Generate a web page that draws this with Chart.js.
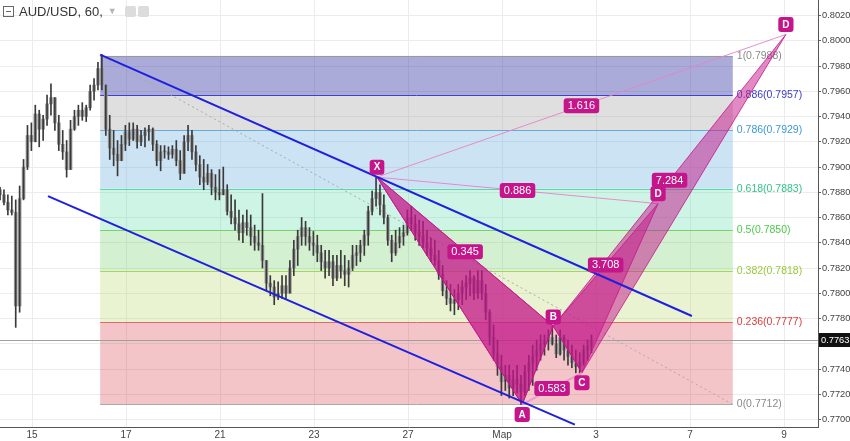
<!DOCTYPE html>
<html>
<head>
<meta charset="utf-8">
<script src="https://cdn.jsdelivr.net/npm/chart.js@4.4.1/dist/chart.umd.min.js"></script>
<style>
  html, body { margin: 0; padding: 0; background: #fff; }
  #wrap { position: relative; width: 850px; height: 441px; }
  #hdr { position: absolute; left: 3px; top: 3px; height: 16px; display: flex; align-items: center;
         font: 13px "Liberation Sans", Arial, sans-serif; color: #333; }
  #hdr .fold { width: 9px; height: 9px; border: 1px solid #666; position: relative; margin-right: 5px; }
  #hdr .fold::after { content: ""; position: absolute; left: 2px; right: 2px; top: 4px; height: 1px; background: #666; }
  #hdr .caret { color: #b5b5b5; font-size: 9px; margin: 0 8px 0 5px; }
  #hdr .ico { width: 11px; height: 11px; background: #dcdcdc; border-radius: 2px; margin-right: 2px; }
</style>
</head>
<body>
<div id="wrap">
  <canvas id="c" width="850" height="441"></canvas>
  <div id="hdr"><span class="fold"></span><span>AUD/USD, 60,</span><span class="caret">▼</span><span class="ico"></span><span class="ico"></span></div>
</div>
<script>
// 2-hour bars, time measured in trading days from the "15" label
const tStart = -0.68;
const barStep = 1 / 12;
const firstOpen = 0.7882;
const hi = [
  .7884,.7882,.7878,.7877,.7874,.7885,.7906,.7933,.7935,.7949,
  .7945,.7941,.7957,.7966,.7953,.7941,.7929,.7921,.7937,.7945,
  .7949,.7951,.7949,.7965,.7970,.7983,.7989,.7965,.7941,.7929,
  .7921,.7925,.7933,.7935,.7935,.7933,.7929,.7931,.7933,.7931,
  .7921,.7917,.7917,.7916,.7917,.7921,.7913,.7925,.7933,.7929,
  .7917,.7909,.7906,.7902,.7898,.7894,.7898,.7900,.7886,.7878,
  .7874,.7866,.7862,.7866,.7862,.7854,.7850,.7879,.7826,.7814,
  .7810,.7809,.7814,.7814,.7826,.7842,.7850,.7860,.7857,.7852,
  .7849,.7846,.7838,.7834,.7834,.7830,.7830,.7834,.7830,.7826,
  .7838,.7838,.7842,.7850,.7869,.7881,.7892,.7886,.7878,.7862,
  .7846,.7850,.7852,.7854,.7866,.7869,.7862,.7858,.7857,.7850,
  .7844,.7842,.7834,.7822,.7810,.7807,.7803,.7807,.7810,.7814,
  .7818,.7814,.7818,.7818,.7807,.7787,.7775,.7763,.7751,.7743,
  .7743,.7739,.7743,.7735,.7743,.7751,.7759,.7763,.7767,.7767,
  .7771,.7774,.7767,.7771,.7767,.7763,.7759,.7755,.7753,.7759,
  .7763,.7767
];
const lo = [
  .7874,.7870,.7862,.7862,.7773,.7785,.7874,.7898,.7913,.7921,
  .7916,.7921,.7933,.7941,.7929,.7913,.7906,.7892,.7898,.7929,
  .7933,.7937,.7936,.7945,.7953,.7961,.7961,.7925,.7906,.7901,
  .7893,.7906,.7913,.7917,.7921,.7915,.7917,.7916,.7921,.7913,
  .7901,.7897,.7907,.7906,.7907,.7901,.7890,.7901,.7913,.7906,
  .7897,.7886,.7882,.7886,.7878,.7874,.7874,.7878,.7862,.7855,
  .7850,.7842,.7840,.7846,.7838,.7834,.7834,.7820,.7802,.7798,
  .7791,.7795,.7796,.7796,.7802,.7814,.7822,.7838,.7838,.7834,
  .7830,.7825,.7818,.7812,.7814,.7806,.7810,.7812,.7806,.7805,
  .7818,.7822,.7825,.7830,.7838,.7862,.7869,.7862,.7855,.7838,
  .7825,.7830,.7836,.7838,.7846,.7850,.7842,.7838,.7836,.7830,
  .7825,.7822,.7811,.7798,.7791,.7786,.7783,.7787,.7791,.7795,
  .7798,.7795,.7796,.7795,.7779,.7759,.7747,.7735,.7719,.7723,
  .7717,.7719,.7721,.7712,.7719,.7723,.7727,.7739,.7747,.7751,
  .7755,.7759,.7749,.7751,.7747,.7743,.7741,.7737,.7736,.7743,
  .7747,.7753
];
const cl = [
  .7878,.7872,.7866,.7864,.7790,.7875,.7900,.7925,.7920,.7942,
  .7930,.7938,.7950,.7955,.7935,.7918,.7912,.7898,.7930,.7940,
  .7945,.7940,.7947,.7960,.7965,.7978,.7965,.7930,.7915,.7910,
  .7905,.7918,.7928,.7922,.7930,.7920,.7925,.7928,.7930,.7918,
  .7905,.7912,.7912,.7910,.7914,.7905,.7895,.7920,.7925,.7912,
  .7902,.7892,.7888,.7895,.7884,.7880,.7878,.7882,.7865,.7860,
  .7855,.7848,.7856,.7852,.7845,.7840,.7838,.7826,.7808,.7805,
  .7797,.7800,.7806,.7800,.7820,.7835,.7845,.7852,.7845,.7840,
  .7838,.7832,.7825,.7820,.7825,.7812,.7822,.7818,.7815,.7820,
  .7830,.7832,.7838,.7846,.7865,.7875,.7880,.7870,.7860,.7842,
  .7832,.7840,.7845,.7848,.7860,.7855,.7848,.7845,.7840,.7836,
  .7830,.7826,.7815,.7802,.7796,.7792,.7795,.7800,.7805,.7808,
  .7812,.7800,.7810,.7800,.7785,.7765,.7752,.7742,.7730,.7735,
  .7725,.7732,.7728,.7722,.7738,.7745,.7750,.7755,.7760,.7762,
  .7765,.7760,.7752,.7765,.7755,.7750,.7745,.7742,.7745,.7755,
  .7758,.7763
];
const lastPrice = 0.7763;

const dayTicks = [0, 2, 4, 6, 8, 10, 12, 14, 16];
const dayLabels = ['15', '17', '21', '23', '27', 'Мар', '3', '7', '9'];
const priceTicks = [0.7700, 0.7720, 0.7740, 0.7760, 0.7780, 0.7800, 0.7820, 0.7840, 0.7860,
                    0.7880, 0.7900, 0.7920, 0.7940, 0.7960, 0.7980, 0.8000, 0.8020];

// fib retracement
const fibLevels = [1, 0.886, 0.786, 0.618, 0.5, 0.382, 0.236, 0];
const fibPrices = [0.7988, 0.7957, 0.7929, 0.7883, 0.7850, 0.7818, 0.7777, 0.7712];
const fibTimes = [1.45, 14.91];

// channel
const channelTopTimes = [1.45, 14.04];
const channelTopPrices = [0.7989, 0.7782];
const channelBotTimes = [0.34, 11.55];
const channelBotPrices = [0.7877, 0.7696];

// XABCD, two D targets sharing X A B C
const patNames = ['X', 'A', 'B', 'C'];
const patTimes = [7.34, 10.43, 11.09, 11.70];
const patPrices = [0.7892, 0.7712, 0.7774, 0.7737];
const dTimes = [13.32, 16.04];
const dPrices = [0.7871, 0.8005];
const ratioXB = '0.345';
const ratioAC = '0.583';
const ratioBD = ['3.708', '7.284'];
const ratioXD = ['0.886', '1.616'];

const fibFills = ['rgba(60,60,170,0.43)', 'rgba(150,150,150,0.3)', 'rgba(100,170,220,0.33)',
                  'rgba(60,210,150,0.25)', 'rgba(80,200,70,0.25)', 'rgba(170,210,80,0.26)',
                  'rgba(210,40,50,0.27)'];
const fibLineColors = ['#9a9a9a', '#4040d0', '#6aa9d8', '#5ed6ad', '#6fd66a', '#a5d65a', '#e06a6a', '#aaaaaa'];
const fibTextColors = ['#8a8a8a', '#3b3bc9', '#3c9ad4', '#33c48a', '#4cc94c', '#98c93a', '#e03a3a', '#8a8a8a'];
const PAT = '196,22,138';
const FONT = '"Liberation Sans", Arial, sans-serif';

const opens = cl.map((c, i) => i === 0 ? firstOpen : cl[i - 1]);
const times = cl.map((c, i) => tStart + i * barStep);

function tag(ctx, text, cx, cy, font) {
  ctx.font = font;
  const w = ctx.measureText(text).width + 8;
  ctx.fillStyle = `rgb(${PAT})`;
  ctx.beginPath();
  ctx.roundRect(cx - w / 2, cy - 7.5, w, 15, 3);
  ctx.fill();
  ctx.fillStyle = '#fff';
  ctx.textAlign = 'center';
  ctx.textBaseline = 'middle';
  ctx.fillText(text, cx, cy + 0.5);
}

const overlays = {
  id: 'overlays',
  beforeDatasetsDraw(chart) {
    const { ctx, chartArea: a, scales: { x, y } } = chart;
    ctx.save();
    ctx.beginPath();
    ctx.rect(a.left, a.top, a.right - a.left, a.bottom - a.top);
    ctx.clip();
    const x0 = x.getPixelForValue(fibTimes[0]), x1 = x.getPixelForValue(fibTimes[1]);
    for (let i = 0; i < fibPrices.length - 1; i++) {
      const y0 = y.getPixelForValue(fibPrices[i]), y1 = y.getPixelForValue(fibPrices[i + 1]);
      ctx.fillStyle = fibFills[i];
      ctx.fillRect(x0, y0, x1 - x0, y1 - y0);
    }
    ctx.lineWidth = 1;
    ctx.font = '10.5px ' + FONT;
    ctx.textAlign = 'left';
    ctx.textBaseline = 'middle';
    fibPrices.forEach((p, i) => {
      const yy = Math.round(y.getPixelForValue(p)) + 0.5;
      ctx.strokeStyle = fibLineColors[i];
      ctx.beginPath(); ctx.moveTo(x0, yy); ctx.lineTo(x1, yy); ctx.stroke();
      ctx.fillStyle = fibTextColors[i];
      ctx.fillText(`${fibLevels[i]}(${p.toFixed(4)})`, x1 + 4, yy);
    });
    // dotted trend of the retracement
    ctx.strokeStyle = '#a8a8a8';
    ctx.setLineDash([2, 3]);
    ctx.beginPath();
    ctx.moveTo(x0, y.getPixelForValue(fibPrices[0]));
    ctx.lineTo(x1, y.getPixelForValue(fibPrices[fibPrices.length - 1]));
    ctx.stroke();
    ctx.setLineDash([]);
    // last price line
    const yp = Math.round(y.getPixelForValue(lastPrice)) + 0.5;
    ctx.strokeStyle = '#a0a0a0';
    ctx.beginPath(); ctx.moveTo(a.left, yp); ctx.lineTo(a.right, yp); ctx.stroke();
    ctx.restore();
  },
  afterDatasetsDraw(chart) {
    const { ctx, chartArea: a, scales: { x, y } } = chart;
    const P = (t, p) => [x.getPixelForValue(t), y.getPixelForValue(p)];
    const [X, A, B, C] = patTimes.map((t, i) => P(t, patPrices[i]));
    const Ds = dTimes.map((t, i) => P(t, dPrices[i]));
    ctx.save();
    ctx.beginPath();
    ctx.rect(a.left, a.top, a.right - a.left, a.bottom - a.top);
    ctx.clip();
    const tri = (p, q, r) => {
      ctx.beginPath(); ctx.moveTo(...p); ctx.lineTo(...q); ctx.lineTo(...r); ctx.closePath();
      ctx.fill(); ctx.stroke();
    };
    ctx.lineWidth = 1;
    Ds.forEach(D => {
      ctx.fillStyle = `rgba(${PAT},0.5)`;
      ctx.strokeStyle = `rgba(${PAT},0.8)`;
      tri(X, A, B);
      tri(B, C, D);
      ctx.strokeStyle = 'rgba(230,130,200,0.9)';
      ctx.beginPath(); ctx.moveTo(...X); ctx.lineTo(...D); ctx.stroke();
    });
    ctx.strokeStyle = 'rgba(235,150,205,0.95)';
    ctx.lineWidth = 2;
    ctx.beginPath(); ctx.moveTo(...A); ctx.lineTo(...C); ctx.stroke();

    // channel
    ctx.strokeStyle = '#1f1fe0';
    ctx.lineWidth = 2;
    [[channelTopTimes, channelTopPrices], [channelBotTimes, channelBotPrices]].forEach(([ts, ps]) => {
      ctx.beginPath();
      ctx.moveTo(...P(ts[0], ps[0]));
      ctx.lineTo(...P(ts[1], ps[1]));
      ctx.stroke();
    });

    // ratio tags
    const mid = (p, q) => [(p[0] + q[0]) / 2, (p[1] + q[1]) / 2];
    const rf = '11px ' + FONT;
    tag(ctx, ratioXB, ...mid(X, B), rf);
    tag(ctx, ratioAC, ...mid(A, C), rf);
    Ds.forEach((D, i) => {
      tag(ctx, ratioBD[i], ...mid(B, D), rf);
      tag(ctx, ratioXD[i], ...mid(X, D), rf);
    });
    // point tags
    const pf = 'bold 10px ' + FONT;
    tag(ctx, 'X', X[0], X[1] - 10, pf);
    tag(ctx, 'A', A[0], A[1] + 10, pf);
    tag(ctx, 'B', B[0], B[1] - 9, pf);
    tag(ctx, 'C', C[0], C[1] + 10, pf);
    Ds.forEach(D => tag(ctx, 'D', D[0], D[1] - 10, pf));
    ctx.restore();
  },
  afterDraw(chart) {
    const { ctx, chartArea: a, scales: { y } } = chart;
    const yp = y.getPixelForValue(lastPrice);
    ctx.save();
    ctx.fillStyle = '#111';
    ctx.fillRect(a.right + 1, yp - 7, chart.width - a.right - 1, 14);
    ctx.fillStyle = '#fff';
    ctx.font = '9.3px ' + FONT;
    ctx.textAlign = 'left';
    ctx.textBaseline = 'middle';
    ctx.fillText(lastPrice.toFixed(4), a.right + 3, yp + 0.5);
    ctx.restore();
  }
};

new Chart(document.getElementById('c'), {
  type: 'bar',
  data: {
    datasets: [
      {
        label: 'range',
        data: times.map((t, i) => ({ x: t, y: [Math.min(lo[i], opens[i]), Math.max(hi[i], opens[i])] })),
        backgroundColor: '#3a3a3a',
        barThickness: 1,
        grouped: false,
        order: 0
      },
      {
        label: 'body',
        data: times.map((t, i) => ({ x: t, y: [opens[i], cl[i]] })),
        backgroundColor: '#9c9c9c',
        barThickness: 3,
        minBarLength: 1,
        grouped: false,
        order: 1
      }
    ]
  },
  options: {
    responsive: false,
    animation: false,
    layout: { padding: 0 },
    plugins: { legend: { display: false }, tooltip: { enabled: false } },
    scales: {
      x: {
        type: 'linear',
        min: -0.681,
        max: 16.723,
        offset: false,
        afterBuildTicks: s => { s.ticks = dayTicks.map(v => ({ value: v })); },
        afterFit: s => { s.height = 14; s.paddingLeft = 0; s.paddingRight = 0; },
        ticks: {
          callback: v => dayLabels[dayTicks.indexOf(v)],
          autoSkip: false, maxRotation: 0, padding: 2,
          color: '#444', font: { size: 10, family: FONT }
        },
        grid: { color: '#ececec', offset: false, drawTicks: false },
        border: { color: '#555' }
      },
      y: {
        position: 'right',
        min: 0.76941,
        max: 0.80323,
        beginAtZero: false,
        afterBuildTicks: s => { s.ticks = priceTicks.map(v => ({ value: v })); },
        afterFit: s => { s.width = 32; s.paddingTop = 0; s.paddingBottom = 0; },
        ticks: {
          callback: v => v.toFixed(4),
          padding: 1,
          color: '#444', font: { size: 9.3, family: FONT }
        },
        grid: { color: '#ececec', tickColor: '#666', tickLength: 3 },
        border: { color: '#555' }
      }
    }
  },
  plugins: [overlays]
});
</script>
</body>
</html>
